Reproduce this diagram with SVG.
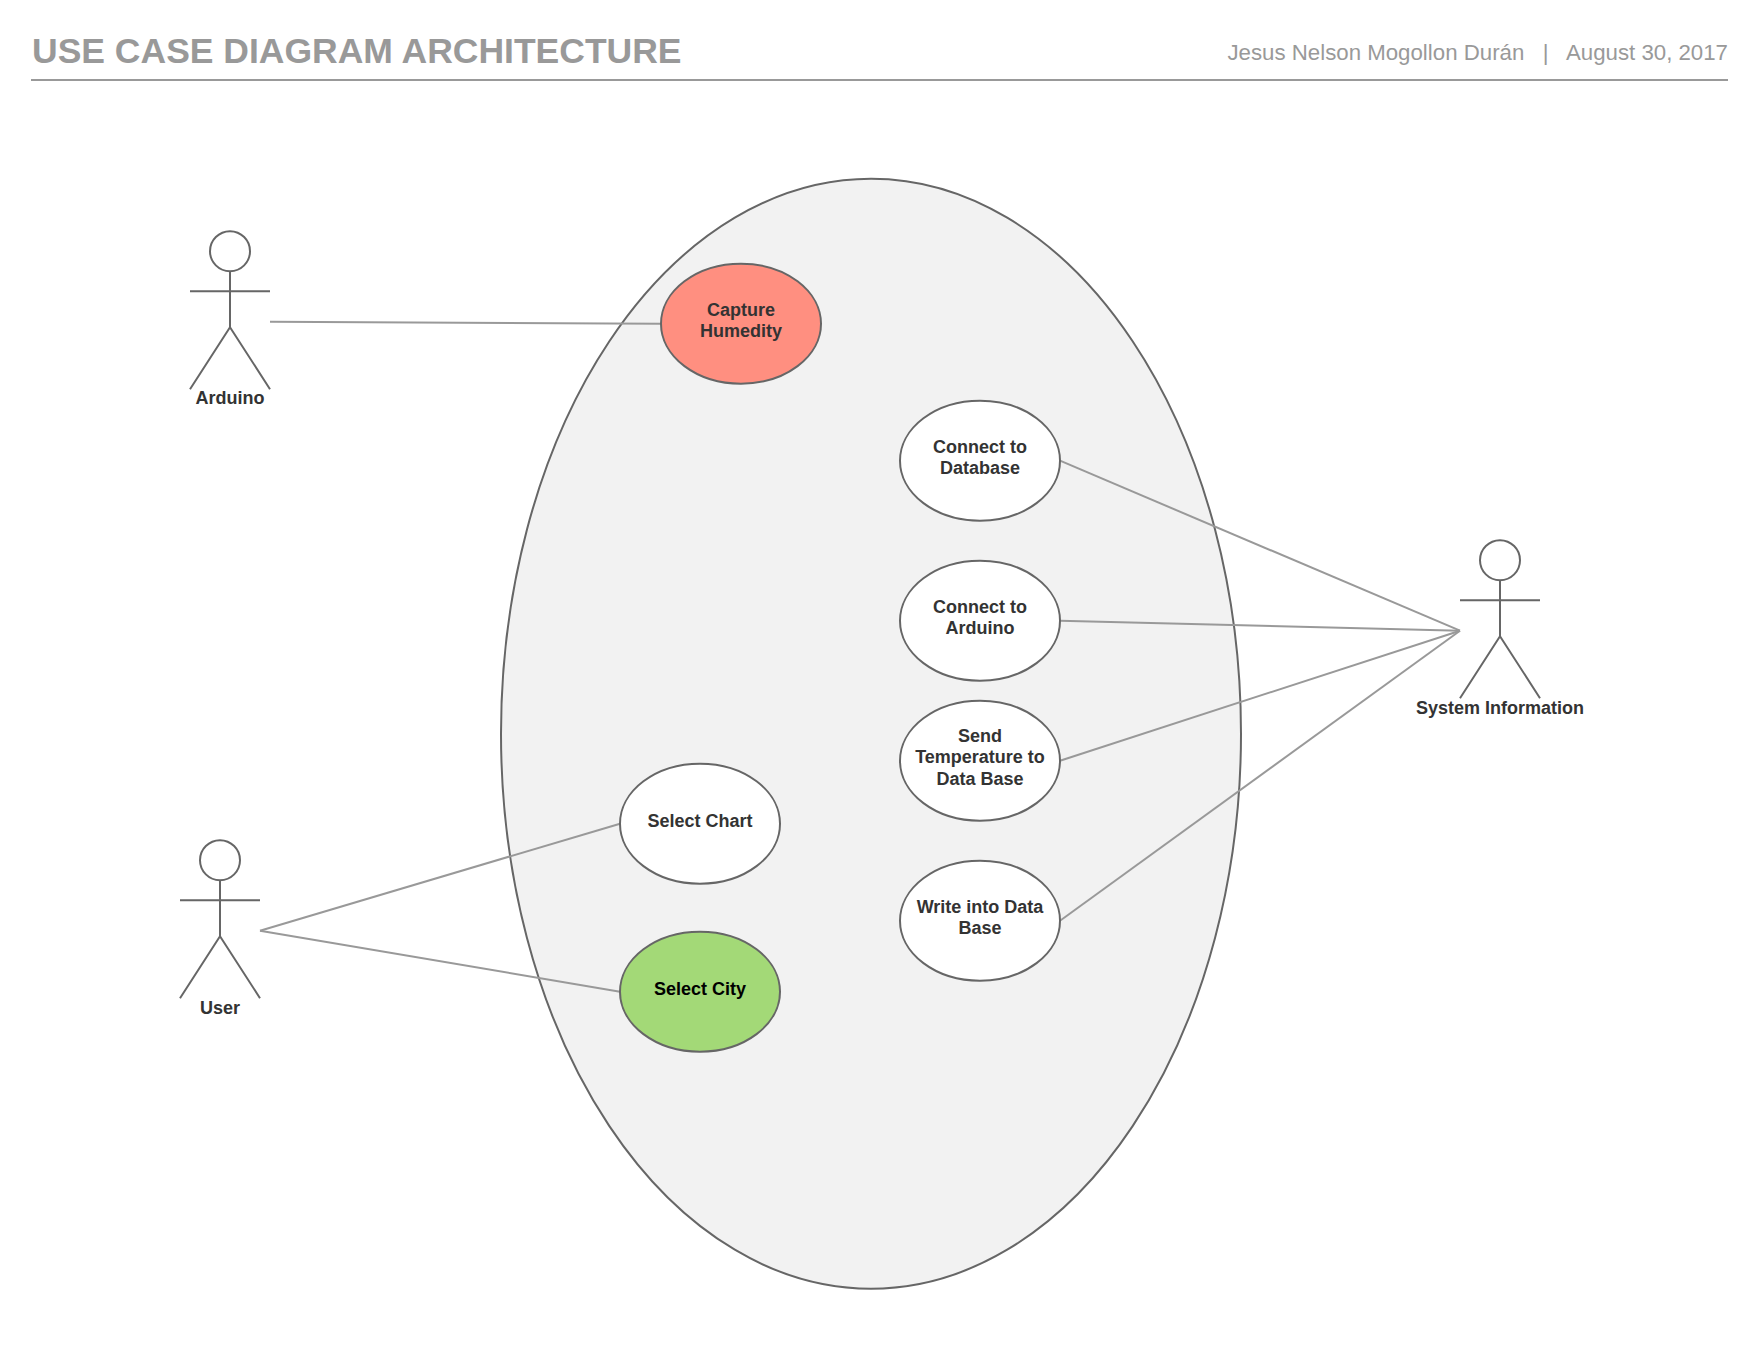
<svg xmlns="http://www.w3.org/2000/svg" width="1760" height="1360" viewBox="0 0 1760 1360">
<style>
text{font-family:"Liberation Sans",Arial,sans-serif}
.hd{fill:#999999}
.t{font-size:18px;font-weight:bold;fill:#333333;text-anchor:middle}
.s{stroke:#666666;stroke-width:2;fill:none}
.e{stroke:#666666;stroke-width:2}
.c{stroke:#999999;stroke-width:2;fill:none}
</style>
<defs>
<g id="actor"><circle class="s" cx="0" cy="20" r="20" fill="none"/><path class="s" d="M0 40V96M-40 60H40M0 96L-40 158M0 96L40 158"/></g>
</defs>
<rect width="1760" height="1360" fill="#ffffff"/>
<g id="header">
<text class="hd" x="32" y="62.500" font-size="35.500" font-weight="bold">USE CASE DIAGRAM ARCHITECTURE</text>
<text class="hd" x="1728" y="60" font-size="22.250" text-anchor="end" xml:space="preserve">Jesus Nelson Mogollon Durán   |   August 30, 2017</text>
<path d="M31 80H1728" stroke="#999999" stroke-width="2" fill="none"/>
</g>
<g id="diagram" transform="translate(0 0.7)">
<g id="system-boundary"><ellipse class="e" cx="871" cy="733" rx="370" ry="555" fill="#f2f2f2"/></g>
<g id="connectors">
<path class="c" d="M270 321L661 323"/>
<path class="c" d="M1060 460L1460 630"/>
<path class="c" d="M1060 620L1460 630"/>
<path class="c" d="M1060 760L1460 630"/>
<path class="c" d="M1060 920L1460 630"/>
<path class="c" d="M620 823L260 930"/>
<path class="c" d="M620 991L260 930"/>
</g>
<g id="actor-arduino"><use href="#actor" x="230" y="230.500"/><text class="t" x="230" y="403">Arduino</text></g>
<g id="actor-system"><use href="#actor" x="1500" y="539.500"/><text class="t" x="1500" y="713">System Information</text></g>
<g id="actor-user"><use href="#actor" x="220" y="839.500"/><text class="t" x="220" y="1013">User</text></g>
<g id="uc-capture"><ellipse class="e" cx="741" cy="323" rx="80" ry="60" fill="#ff8f80"/><text class="t" x="741" y="315">Capture</text><text class="t" x="741" y="336.600">Humedity</text></g>
<g id="uc-database"><ellipse class="e" cx="980" cy="460" rx="80" ry="60" fill="#ffffff"/><text class="t" x="980" y="452">Connect to</text><text class="t" x="980" y="473.600">Database</text></g>
<g id="uc-arduino"><ellipse class="e" cx="980" cy="620" rx="80" ry="60" fill="#ffffff"/><text class="t" x="980" y="612">Connect to</text><text class="t" x="980" y="633.600">Arduino</text></g>
<g id="uc-send"><ellipse class="e" cx="980" cy="760" rx="80" ry="60" fill="#ffffff"/><text class="t" x="980" y="741">Send</text><text class="t" x="980" y="762.600">Temperature to</text><text class="t" x="980" y="784.200">Data Base</text></g>
<g id="uc-write"><ellipse class="e" cx="980" cy="920" rx="80" ry="60" fill="#ffffff"/><text class="t" x="980" y="912">Write into Data</text><text class="t" x="980" y="933.600">Base</text></g>
<g id="uc-chart"><ellipse class="e" cx="700" cy="823" rx="80" ry="60" fill="#ffffff"/><text class="t" x="700" y="826">Select Chart</text></g>
<g id="uc-city"><ellipse class="e" cx="700" cy="991" rx="80" ry="60" fill="#a3d977"/><text class="t" x="700" y="994" style="fill:#000000">Select City</text></g>
</g>
</svg>
